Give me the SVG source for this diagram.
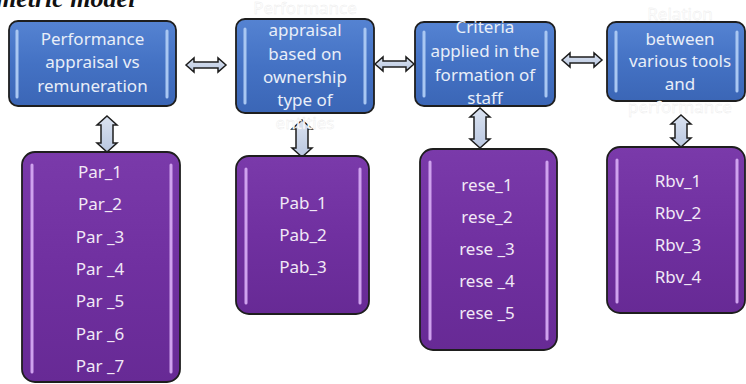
<svg xmlns="http://www.w3.org/2000/svg" width="746" height="384" viewBox="0 0 746 384">
<defs>
<linearGradient id="gBlue" x1="0" y1="0" x2="0" y2="1">
<stop offset="0" stop-color="#5583d2"/>
<stop offset="0.5" stop-color="#4472c4"/>
<stop offset="1" stop-color="#3b66b6"/>
</linearGradient>
<linearGradient id="gPurple" x1="0" y1="0" x2="0" y2="1">
<stop offset="0" stop-color="#7a3aaa"/>
<stop offset="0.5" stop-color="#7030a0"/>
<stop offset="1" stop-color="#672a95"/>
</linearGradient>
<linearGradient id="gArrow" x1="0" y1="0" x2="0" y2="1">
<stop offset="0" stop-color="#dbe3f1"/>
<stop offset="1" stop-color="#b9c7e0"/>
</linearGradient>
</defs>
<style>
.blue{fill:url(#gBlue);stroke:#1e1e1e;stroke-width:1.8}
.purple{fill:url(#gPurple);stroke:#1e1e1e;stroke-width:1.8}
.hb{stroke:#a9c7f2;stroke-width:3;stroke-linecap:round;fill:none}
.hp{stroke:#cfa2ee;stroke-width:3;stroke-linecap:round;fill:none}
.arr{fill:url(#gArrow);stroke:#1e1e1e;stroke-width:1.5;stroke-linejoin:miter}
.t{font-family:"Noto Sans","Liberation Sans",sans-serif;font-size:17px;text-anchor:middle;fill:#e8eef8}
.tp{font-family:"Noto Sans","Liberation Sans",sans-serif;font-size:17px;text-anchor:middle;fill:#f1e8f6}
.ghost{fill:#ffffff;stroke:#ebebeb;stroke-width:0.4}
.title{font-family:"Liberation Serif",serif;font-size:26px;font-style:italic;font-weight:bold;fill:#111}
</style>
<text class="title" x="-4" y="7">metric model</text>
<g id="connectors">
<path class="arr" d="M186,65 L194,58 L194,62 L218,62 L218,58 L226,65 L218,72 L218,68 L194,68 L194,72 Z"/>
<path class="arr" d="M375,64 L383,57 L383,61 L406,61 L406,57 L414,64 L406,71 L406,67 L383,67 L383,71 Z"/>
<path class="arr" d="M562,60 L570,53 L570,57 L594,57 L594,53 L602,60 L594,67 L594,63 L570,63 L570,67 Z"/>
<path class="arr" d="M107,116 L117,125 L113,125 L113,143 L117,143 L107,152 L97,143 L101,143 L101,125 L97,125 Z"/>
<path class="arr" d="M302,120 L312,129 L308,129 L308,148 L312,148 L302,157 L292,148 L296,148 L296,129 L292,129 Z"/>
<path class="arr" d="M480,108 L490,117 L486,117 L486,139 L490,139 L480,148 L470,139 L474,139 L474,117 L470,117 Z"/>
<path class="arr" d="M681,115 L691,124 L687,124 L687,138 L691,138 L681,147 L671,138 L675,138 L675,124 L671,124 Z"/>
</g>
<g id="n1">
<rect class="blue" x="9" y="21" width="167" height="85" rx="9"/>
<path class="hb" d="M17,31 V97 M167,31 V97"/>
<text class="t"><tspan x="92.5" y="45">Performance</tspan><tspan x="92.5" y="68">appraisal vs</tspan><tspan x="92.5" y="92">remuneration</tspan></text>
</g>
<g id="n2">
<rect class="blue" x="236" y="19" width="138" height="94" rx="9"/>
<path class="hb" d="M245,29 V103 M365,29 V103"/>
<text class="t"><tspan class="ghost" x="305" y="14">Performance</tspan><tspan x="305" y="36">appraisal</tspan><tspan x="305" y="60">based on</tspan><tspan x="305" y="83">ownership</tspan><tspan x="305" y="106">type of</tspan><tspan class="ghost" x="305" y="129">entities</tspan></text>
</g>
<g id="n3">
<rect class="blue" x="415" y="22" width="140" height="84" rx="9"/>
<path class="hb" d="M424,32 V96 M546,32 V96"/>
<text class="t"><tspan x="485" y="33">Criteria</tspan><tspan x="485" y="57">applied in the</tspan><tspan x="485" y="81">formation of</tspan><tspan x="485" y="104">staff</tspan></text>
</g>
<g id="n4">
<rect class="blue" x="607" y="22" width="138" height="79" rx="9"/>
<path class="hb" d="M616,32 V91 M737,32 V91"/>
<text class="t"><tspan class="ghost" x="680" y="20">Relation</tspan><tspan x="680" y="45">between</tspan><tspan x="680" y="67">various tools</tspan><tspan x="680" y="90">and</tspan><tspan class="ghost" x="680" y="113">performance</tspan></text>
</g>
<g id="p1">
<rect class="purple" x="22" y="152" width="158" height="230" rx="13"/>
<path class="hp" d="M32,165 V372 M171,165 V372"/>
<text class="tp"><tspan x="100" y="178">Par_1</tspan><tspan x="100" y="210">Par_2</tspan><tspan x="100" y="243">Par _3</tspan><tspan x="100" y="275">Par _4</tspan><tspan x="100" y="307">Par _5</tspan><tspan x="100" y="340">Par _6</tspan><tspan x="100" y="372">Par _7</tspan></text>
</g>
<g id="p2">
<rect class="purple" x="236" y="156" width="133" height="158" rx="13"/>
<path class="hp" d="M246,169 V303 M360,169 V303"/>
<text class="tp"><tspan x="303" y="209">Pab_1</tspan><tspan x="303" y="241">Pab_2</tspan><tspan x="303" y="273">Pab_3</tspan></text>
</g>
<g id="p3">
<rect class="purple" x="420" y="149" width="137" height="201" rx="13"/>
<path class="hp" d="M430,162 V339 M547,162 V339"/>
<text class="tp"><tspan x="487" y="191">rese_1</tspan><tspan x="487" y="223">rese_2</tspan><tspan x="487" y="255">rese _3</tspan><tspan x="487" y="287">rese _4</tspan><tspan x="487" y="319">rese _5</tspan></text>
</g>
<g id="p4">
<rect class="purple" x="607" y="147" width="138" height="166" rx="13"/>
<path class="hp" d="M617,160 V302 M737,160 V302"/>
<text class="tp"><tspan x="678" y="187">Rbv_1</tspan><tspan x="678" y="219">Rbv_2</tspan><tspan x="678" y="251">Rbv_3</tspan><tspan x="678" y="283">Rbv_4</tspan></text>
</g>
</svg>
